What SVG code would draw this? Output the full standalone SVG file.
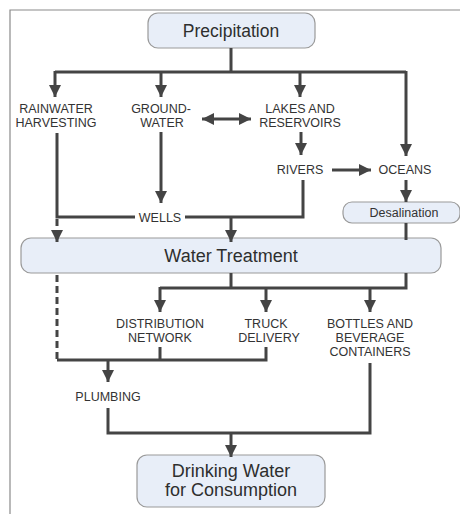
<svg xmlns="http://www.w3.org/2000/svg" width="460" height="514" viewBox="0 0 460 514">
<style>
.box{fill:#e8eef8;stroke:#9a9a9a;stroke-width:1.2}
.title{font-family:"Liberation Sans",Arial,sans-serif;fill:#2e2e2e;text-anchor:middle}
.lbl{font-family:"Liberation Sans",Arial,sans-serif;font-size:12.5px;fill:#333;text-anchor:middle}
.ln{fill:none;stroke:#444;stroke-width:3}
.arr{fill:none;stroke:#444;stroke-width:3;marker-end:url(#ah)}
.dash{fill:none;stroke:#444;stroke-width:3;stroke-dasharray:7,4}
</style>
<defs>
<marker id="ah" markerUnits="userSpaceOnUse" markerWidth="14" markerHeight="12" refX="12" refY="6" orient="auto">
<path d="M0,0 L12,6 L0,12 Z" fill="#444"/>
</marker>
<marker id="as" markerUnits="userSpaceOnUse" markerWidth="14" markerHeight="12" refX="12" refY="6" orient="auto-start-reverse">
<path d="M0,0 L12,6 L0,12 Z" fill="#444"/>
</marker>
</defs>
<rect width="460" height="514" fill="#fff"/>
<path d="M10,514 V10 H460" fill="none" stroke="#8a8a8a" stroke-width="1.2"/>

<g id="precipitation">
<rect class="box" x="148" y="13" width="167" height="35" rx="10"/>
<text class="title" x="231" y="37" font-size="17.5">Precipitation</text>
</g>
<g id="rainwater"><text class="lbl" x="56" y="113">RAINWATER</text><text class="lbl" x="56" y="127">HARVESTING</text></g>
<g id="groundwater"><text class="lbl" x="161" y="113">GROUND-</text><text class="lbl" x="162" y="127">WATER</text></g>
<g id="lakes"><text class="lbl" x="300" y="113">LAKES AND</text><text class="lbl" x="300" y="127">RESERVOIRS</text></g>
<g id="rivers"><text class="lbl" x="300" y="174">RIVERS</text></g>
<g id="oceans"><text class="lbl" x="405" y="174">OCEANS</text></g>
<g id="desalination">
<rect class="box" x="343" y="202" width="117" height="21" rx="9"/>
<text class="lbl" x="404" y="217" font-size="11.5">Desalination</text>
</g>
<g id="wells"><text class="lbl" x="160" y="222">WELLS</text></g>
<g id="water-treatment">
<rect class="box" x="21" y="238" width="420" height="35" rx="10"/>
<text class="title" x="231" y="262" font-size="18">Water Treatment</text>
</g>
<g id="distribution"><text class="lbl" x="160" y="328">DISTRIBUTION</text><text class="lbl" x="160" y="342">NETWORK</text></g>
<g id="truck"><text class="lbl" x="266" y="328">TRUCK</text><text class="lbl" x="269" y="342">DELIVERY</text></g>
<g id="bottles"><text class="lbl" x="370" y="328">BOTTLES AND</text><text class="lbl" x="370" y="342">BEVERAGE</text><text class="lbl" x="370" y="356">CONTAINERS</text></g>
<g id="plumbing"><text class="lbl" x="108" y="401">PLUMBING</text></g>
<g id="drinking-water">
<rect class="box" x="137" y="455" width="188" height="52" rx="10"/>
<text class="title" x="231" y="477" font-size="18">Drinking Water</text>
<text class="title" x="231" y="496" font-size="18">for Consumption</text>
</g>

<g id="connectors">
<path class="ln" d="M231,48 V72 M55,72 H406"/>
<path class="arr" d="M55,71 V97"/>
<path class="arr" d="M161,72 V97"/>
<path class="arr" d="M300,72 V97"/>
<path class="arr" d="M406,71 V156"/>
<path d="M202,119 H251" fill="none" stroke="#444" stroke-width="3" marker-start="url(#as)" marker-end="url(#ah)"/>
<path class="arr" d="M301,132 V155"/>
<path class="arr" d="M332,170 H371"/>
<path class="arr" d="M406,180 V202"/>
<path class="arr" d="M161,132 V203"/>
<path class="ln" d="M57,133 V217 H135 M185,217 H303 V180"/>
<path class="dash" d="M57,219 V234"/>
<path class="arr" d="M57,230 V242"/>
<path class="arr" d="M231,217 V242"/>
<path class="ln" d="M406,223 V240"/>
<path class="ln" d="M231,273 V288 M160,288 H406 V273"/>
<path class="arr" d="M160,287 V312"/>
<path class="arr" d="M266,288 V312"/>
<path class="arr" d="M370,288 V312"/>
<path class="dash" d="M57,275 V360"/>
<path class="ln" d="M57,360 H266 V347 M160,347 V360"/>
<path class="arr" d="M108,360 V382"/>
<path class="ln" d="M108,408 V433 H370 V363"/>
<path class="arr" d="M231,433 V457"/>
</g>
</svg>
